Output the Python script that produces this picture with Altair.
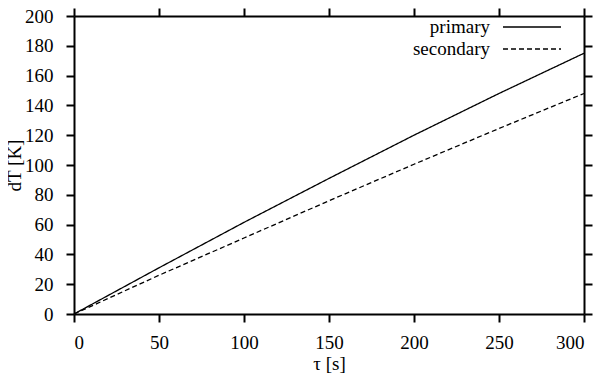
import altair as alt
import pandas as pd

# ---- data ----
tau = [0, 50, 100, 150, 200, 250, 300]
primary = [0, 31, 61.5, 91, 120, 148, 175]
secondary = [0, 26, 51, 76, 100.5, 124.5, 148]
series_names = ["primary", "secondary"]
x_ticks = [0, 50, 100, 150, 200, 250, 300]
y_ticks = [0, 20, 40, 60, 80, 100, 120, 140, 160, 180, 200]

df = pd.DataFrame({
    "tau": tau + tau,
    "dT": primary + secondary,
    "series": [series_names[0]] * len(tau) + [series_names[1]] * len(tau),
})

FONT = "Liberation Serif, DejaVu Serif, serif"
FS = 19

xscale = alt.Scale(domain=[0, 300], nice=False, zero=False)
yscale = alt.Scale(domain=[0, 200], nice=False, zero=False)

lines = alt.Chart(df).mark_line(color="black", strokeWidth=1.3).encode(
    x=alt.X("tau:Q", scale=xscale,
            axis=alt.Axis(title="τ [s]", orient="bottom", values=x_ticks,
                          labelPadding=11, titlePadding=2,
                          labelFont=FONT, titleFont=FONT)),
    y=alt.Y("dT:Q", scale=yscale,
            axis=alt.Axis(title="dT [K]", orient="left", values=y_ticks,
                          labelPadding=13, titlePadding=0,
                          labelFont=FONT, titleFont=FONT)),
    strokeDash=alt.StrokeDash(
        "series:N",
        scale=alt.Scale(domain=series_names, range=[[1, 0], [5, 3]]),
        legend=alt.Legend(
            title=None, orient="none", legendX=394, legendY=0,
            # line sample drawn to the right of the right-aligned label (gnuplot style)
            symbolType="M 2.4 0 L 8.2 0", symbolSize=400, symbolStrokeWidth=1.3,
            symbolStrokeColor="black", symbolFillColor="transparent",
            labelAlign="right", labelOffset=0,
            labelFont=FONT, labelFontSize=FS, labelColor="black",
            rowPadding=1, padding=0,
        ),
    ),
    order=alt.Order("tau:Q"),
)

mirror = alt.Chart(df).mark_line(opacity=0).encode(
    x=alt.X("tau:Q", scale=xscale,
            axis=alt.Axis(title=None, orient="top", values=x_ticks, labels=False)),
    y=alt.Y("dT:Q", scale=yscale,
            axis=alt.Axis(title=None, orient="right", values=y_ticks, labels=False)),
    detail="series:N",
)

chart = alt.layer(lines, mirror).resolve_axis(
    x="independent", y="independent"
).properties(
    width=510, height=298,
    autosize=alt.AutoSizeParams(type="none"),
    padding={"left": 66, "top": 8, "right": 10, "bottom": 61},
    background="white",
).configure(font=FONT).configure_axis(
    grid=False,
    domainColor="black", domainWidth=2,
    tickColor="black", tickWidth=2, tickSize=8,
    labelFont=FONT, labelFontSize=FS, labelColor="black",
    titleFont=FONT, titleFontSize=FS, titleColor="black", titleFontWeight="normal",
).configure_legend(labelFont=FONT).configure_view(strokeWidth=0)

chart.save("out.html", embed_options={"renderer": "svg", "actions": False})
